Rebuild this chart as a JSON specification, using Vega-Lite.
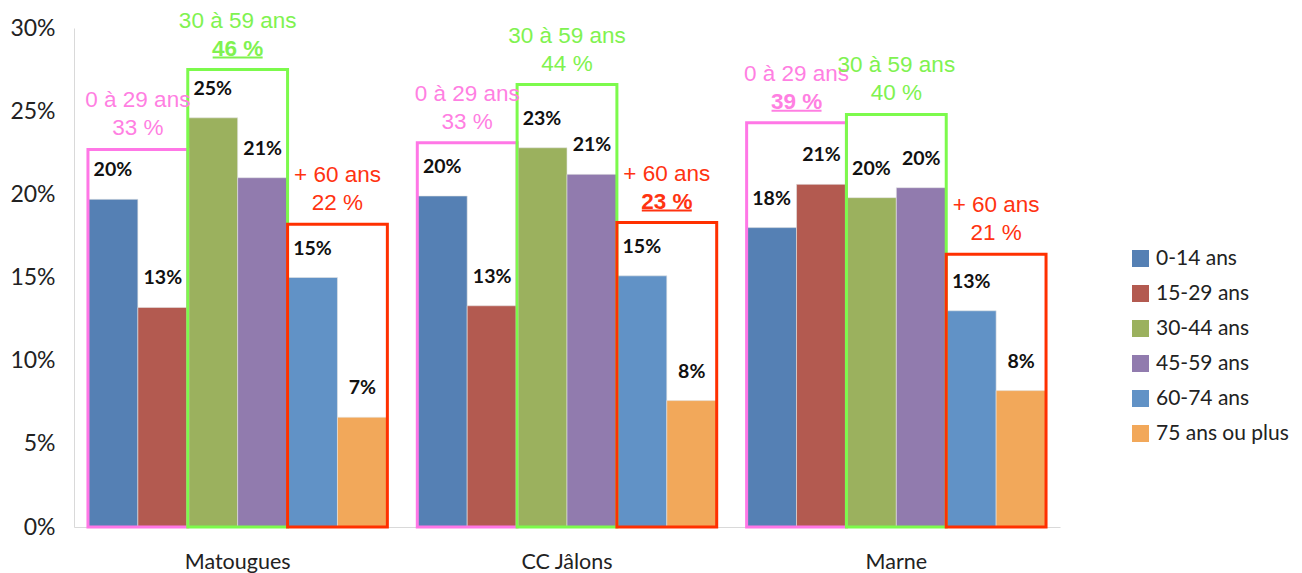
{
  "$schema": "https://vega.github.io/schema/vega-lite/v6.json",
  "width": 986,
  "height": 499,
  "autosize": {"type": "none"},
  "padding": {"left": 74, "top": 28, "right": 242, "bottom": 46},
  "background": "white",
  "config": {"view": {"stroke": null}},
  "datasets": {
    "bars": [
      {"commune": "Matougues", "age": "0-14 ans", "value": 19.7, "label": "20%"},
      {"commune": "Matougues", "age": "15-29 ans", "value": 13.2, "label": "13%"},
      {"commune": "Matougues", "age": "30-44 ans", "value": 24.6, "label": "25%"},
      {"commune": "Matougues", "age": "45-59 ans", "value": 21.0, "label": "21%"},
      {"commune": "Matougues", "age": "60-74 ans", "value": 15.0, "label": "15%"},
      {"commune": "Matougues", "age": "75 ans ou plus", "value": 6.6, "label": "7%"},
      {"commune": "CC Jâlons", "age": "0-14 ans", "value": 19.9, "label": "20%"},
      {"commune": "CC Jâlons", "age": "15-29 ans", "value": 13.3, "label": "13%"},
      {"commune": "CC Jâlons", "age": "30-44 ans", "value": 22.8, "label": "23%"},
      {"commune": "CC Jâlons", "age": "45-59 ans", "value": 21.2, "label": "21%"},
      {"commune": "CC Jâlons", "age": "60-74 ans", "value": 15.1, "label": "15%"},
      {"commune": "CC Jâlons", "age": "75 ans ou plus", "value": 7.6, "label": "8%"},
      {"commune": "Marne", "age": "0-14 ans", "value": 18.0, "label": "18%"},
      {"commune": "Marne", "age": "15-29 ans", "value": 20.6, "label": "21%"},
      {"commune": "Marne", "age": "30-44 ans", "value": 19.8, "label": "20%"},
      {"commune": "Marne", "age": "45-59 ans", "value": 20.4, "label": "20%"},
      {"commune": "Marne", "age": "60-74 ans", "value": 13.0, "label": "13%"},
      {"commune": "Marne", "age": "75 ans ou plus", "value": 8.2, "label": "8%"}
    ],
    "groups": [
      {"commune": "Matougues", "tranche": "0 à 29 ans", "top": 22.7, "share": "33 %", "highest": false},
      {"commune": "Matougues", "tranche": "30 à 59 ans", "top": 27.5, "share": "46 %", "highest": true},
      {"commune": "Matougues", "tranche": "+ 60 ans", "top": 18.2, "share": "22 %", "highest": false},
      {"commune": "CC Jâlons", "tranche": "0 à 29 ans", "top": 23.1, "share": "33 %", "highest": false},
      {"commune": "CC Jâlons", "tranche": "30 à 59 ans", "top": 26.6, "share": "44 %", "highest": false},
      {"commune": "CC Jâlons", "tranche": "+ 60 ans", "top": 18.3, "share": "23 %", "highest": true},
      {"commune": "Marne", "tranche": "0 à 29 ans", "top": 24.3, "share": "39 %", "highest": true},
      {"commune": "Marne", "tranche": "30 à 59 ans", "top": 24.8, "share": "40 %", "highest": false},
      {"commune": "Marne", "tranche": "+ 60 ans", "top": 16.4, "share": "21 %", "highest": false}
    ]
  },
  "encoding": {
    "x": {
      "field": "commune",
      "type": "nominal",
      "sort": ["Matougues", "CC Jâlons", "Marne"],
      "scale": {"paddingInner": 0.0909, "paddingOuter": 0.0424},
      "axis": {
        "title": null,
        "domainColor": "#d9d9d9",
        "domainWidth": 1,
        "ticks": false,
        "labelAngle": 0,
        "labelFont": "Lato",
        "labelFontSize": 21.5,
        "labelColor": "#222222",
        "labelPadding": 24
      }
    }
  },
  "layer": [
    {
      "data": {"name": "bars"},
      "encoding": {
        "xOffset": {
          "field": "age",
          "type": "nominal",
          "sort": ["0-14 ans", "15-29 ans", "30-44 ans", "45-59 ans", "60-74 ans", "75 ans ou plus"],
          "scale": {"paddingInner": 0, "paddingOuter": 0}
        },
        "y": {
          "field": "value",
          "type": "quantitative",
          "scale": {"domain": [0, 30], "nice": false},
          "axis": {
            "title": null,
            "values": [0, 5, 10, 15, 20, 25, 30],
            "labelExpr": "datum.value + '%'",
            "grid": false,
            "ticks": false,
            "domainColor": "#d9d9d9",
            "domainWidth": 1,
            "labelFont": "Lato",
            "labelFontSize": 23,
            "labelColor": "#222222",
            "labelPadding": 19
          }
        }
      },
      "layer": [
        {
          "mark": {"type": "bar", "stroke": "#e4e4e4", "strokeWidth": 0.6},
          "encoding": {
            "color": {
              "field": "age",
              "type": "nominal",
              "sort": ["0-14 ans", "15-29 ans", "30-44 ans", "45-59 ans", "60-74 ans", "75 ans ou plus"],
              "scale": {
                "domain": ["0-14 ans", "15-29 ans", "30-44 ans", "45-59 ans", "60-74 ans", "75 ans ou plus"],
                "range": ["#5580B4", "#B35A50", "#9BB15E", "#917BAE", "#6192C6", "#F2A85A"]
              },
              "legend": {
                "title": null,
                "orient": "none",
                "legendX": 1056,
                "legendY": 220,
                "symbolType": "square",
                "symbolSize": 289,
                "symbolStrokeWidth": 0,
                "labelFont": "Lato",
                "labelFontSize": 21,
                "labelColor": "#222222",
                "labelOffset": 5,
                "rowPadding": 13
              }
            }
          }
        },
        {
          "mark": {
            "type": "text",
            "font": "Lato",
            "fontWeight": "bold",
            "fontSize": 19.5,
            "color": "#111111",
            "baseline": "alphabetic",
            "dy": -23
          },
          "encoding": {"text": {"field": "label"}}
        }
      ]
    },
    {
      "data": {"name": "groups"},
      "encoding": {
        "xOffset": {
          "field": "tranche",
          "type": "nominal",
          "sort": ["0 à 29 ans", "30 à 59 ans", "+ 60 ans"],
          "scale": {"paddingInner": 0, "paddingOuter": 0}
        },
        "y": {"field": "top", "type": "quantitative"},
        "color": {
          "field": "tranche",
          "type": "nominal",
          "scale": {
            "domain": ["0 à 29 ans", "30 à 59 ans", "+ 60 ans"],
            "range": ["#FF7FE2", "#80F250", "#FF3311"]
          },
          "legend": null
        }
      },
      "layer": [
        {
          "mark": {"type": "bar", "filled": false, "strokeWidth": 3},
          "encoding": {
            "y2": {"datum": 0},
            "stroke": {
              "field": "tranche",
              "type": "nominal",
              "scale": {
                "domain": ["0 à 29 ans", "30 à 59 ans", "+ 60 ans"],
                "range": ["#FF77E6", "#7CFA4C", "#FF3000"]
              },
              "legend": null
            }
          }
        },
        {
          "mark": {"type": "text", "font": "Liberation Sans", "fontSize": 22.5, "baseline": "alphabetic", "dy": -42},
          "encoding": {"text": {"field": "tranche"}}
        },
        {
          "transform": [{"filter": "!datum.highest"}],
          "mark": {"type": "text", "font": "Liberation Sans", "fontSize": 22.5, "baseline": "alphabetic", "dy": -14},
          "encoding": {"text": {"field": "share"}}
        },
        {
          "transform": [{"filter": "datum.highest"}],
          "mark": {"type": "text", "font": "Liberation Sans", "fontSize": 22.5, "fontWeight": "bold", "baseline": "alphabetic", "dy": -14},
          "encoding": {"text": {"field": "share"}}
        },
        {
          "transform": [{"filter": "datum.highest"}],
          "mark": {"type": "tick", "orient": "horizontal", "size": 50, "thickness": 2, "yOffset": -12, "opacity": 1},
          "encoding": {}
        }
      ]
    }
  ],
  "resolve": {"scale": {"xOffset": "independent", "color": "independent", "y": "shared"}}
}
